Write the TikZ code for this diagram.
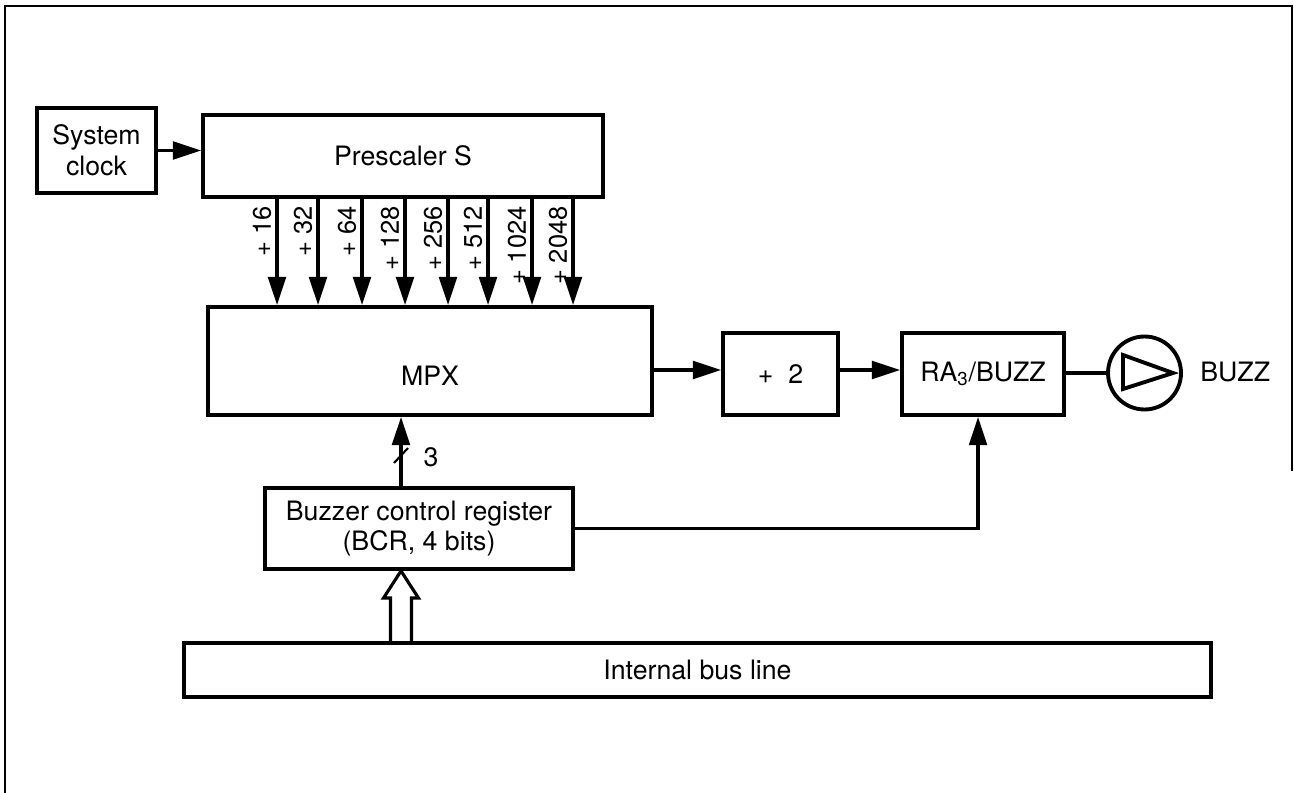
\documentclass[tikz,border=0pt]{standalone}
\usepackage{fontspec}
\setmainfont{TeX Gyre Heros}
\usetikzlibrary{arrows.meta,calc}

\begin{document}
\begin{tikzpicture}[line cap=butt,line join=miter,>={Triangle[length=16pt,width=10pt]},
	font=\fontsize{15.2}{17.5}\selectfont, x=0.02cm, y=-0.02cm,
	box/.style={draw, line width=2.2pt, inner sep=0pt, align=center},
	sig/.style={line width=1.9pt},
	divlbl/.style={rotate=90, anchor=east, inner sep=0pt, font=\fontsize{14.5}{17}\selectfont}]
	\useasboundingbox (0,0) rectangle (1294,793);
	\def\ySig{370}
	\def\xBits{401}
	\def\xTap{978}
	% Khung ngoài
	\draw[line width=1.4pt] (1292,471) -- (1292,6) -- (5,6) -- (5,793);
	% Các khối chính
	\node[box, minimum width=2.38cm, minimum height=1.70cm] (clk) at (96.5,150.5) {System\\clock};
	\node[box, minimum width=8.00cm, minimum height=1.64cm] (pre) at (403,156) {Prescaler S};
	\node[box, minimum width=8.88cm, minimum height=2.16cm] (mpx) at (430,361) {};
	\node (mpxlbl) at (430,376) {MPX};
	\node[box, minimum width=2.30cm, minimum height=1.64cm] (div) at (780.5,374) {+\ \ 2};
	\node[box, minimum width=3.24cm, minimum height=1.64cm] (ra) at (983,374) {RA\textsubscript{3}/BUZZ};
	\node[box, minimum width=6.16cm, minimum height=1.62cm] (bcr) at (419,528.5) {Buzzer control register\\(BCR, 4 bits)};
	\node[box, minimum width=20.54cm, minimum height=1.08cm] (bus) at (697.5,670) {Internal bus line};
	% Loa (buzzer)
	\node[draw, circle, line width=2.2pt, minimum size=1.46cm, inner sep=0pt] (spk) at (1144.5,373) {};
	\draw[line width=2.2pt] (1123,355) -- (1173,373) -- (1123,389) -- cycle;
	\node[anchor=west, inner sep=0pt] (buzz) at (1200,372) {BUZZ};
	% Tọa độ phụ
	\coordinate (sig) at (0,\ySig);
	\coordinate (tbits) at (\xBits,0);
	\coordinate (tap) at (\xTap,0);
	% Đường tín hiệu
	\draw[sig,->] (clk.east) -- (clk.east -| pre.west);
	\foreach \px/\d [count=\i] in {277/16, 318/32, 362/64, 405/128, 448/256, 488/512, 532/1024, 573/2048} {
		\coordinate (o\i) at (\px,0);
		\draw[sig,->] (pre.south -| o\i) -- (mpx.north -| o\i);
		\node[divlbl] (lbl\i) at (\px-15,206) {+ \d};
	}
	\draw[sig,->] (mpx.east |- sig) -- (div.west |- sig);
	\draw[sig,->] (div.east |- sig) -- (ra.west |- sig);
	\draw[sig] (ra.east |- spk.west) -- (spk.west);
	\draw[sig,->] (bcr.north -| tbits) -- (mpx.south -| tbits);
	\draw[line width=1.2pt] (394,463) -- (408,448);
	\node (nbits) at (431,457) {3};
	\draw[sig,->] (bcr.east) -| (ra.south -| tap);
	% Mũi tên rỗng (bus)
	\coordinate (hb) at (bus.north -| tbits);
	\draw[line width=1.8pt, line join=miter] ($(hb)+(-10.5,0)$) -- ++(0,-43) -- ++(-7,0)
		-- (bcr.south -| tbits) -- ($(hb)+(17.5,-43)$) -- ++(-7,0) -- ($(hb)+(10.5,0)$);
\end{tikzpicture}
\end{document}
